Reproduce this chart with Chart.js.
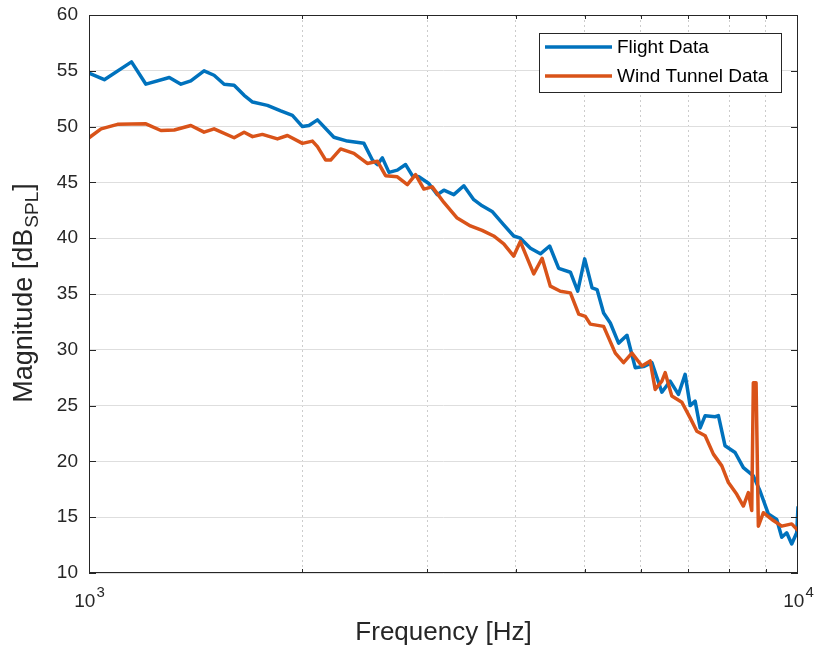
<!DOCTYPE html>
<html>
<head>
<meta charset="utf-8">
<script src="https://cdn.jsdelivr.net/npm/chart.js@4.4.1/dist/chart.umd.min.js"></script>
<style>
  html, body { margin: 0; padding: 0; background: #fff; }
  canvas { display: block; }
</style>
</head>
<body>
<canvas id="myChart" width="815" height="652"></canvas>
<script>
// frequency [Hz] / magnitude [dB SPL]
var flightFreq = [1000,1051,1148,1203,1298,1348,1392,1453,1501,1551,1602,1655,1701,1785,1864,1936,2000,2043,2100,2215,2314,2442,2510,2551,2593,2649,2722,2796,2858,2919,3015,3099,3166,3270,3378,3489,3585,3703,3846,3972,4059,4194,4332,4464,4597,4775,4890,5002,5123,5207,5319,5436,5584,5738,5894,6055,6222,6427,6602,6782,6931,7045,7160,7278,7397,7640,7722,7891,8152,8374,8650,8840,9081,9333,9486,9640,9798,9958,10000];
var flightMag = [54.8,54.2,55.8,53.8,54.4,53.8,54.1,55.0,54.6,53.8,53.7,52.8,52.2,51.9,51.4,51.0,50.0,50.1,50.6,49.05,48.7,48.5,47.0,46.6,47.2,45.9,46.1,46.6,45.6,45.5,44.9,43.9,44.3,43.9,44.7,43.45,42.9,42.4,41.2,40.2,40.0,39.1,38.6,39.3,37.3,36.95,35.25,38.15,35.55,35.4,33.3,32.4,30.6,31.3,28.4,28.5,28.85,26.2,27.2,26.0,27.8,25.0,25.4,23.0,24.1,24.0,24.1,21.4,20.8,19.45,18.7,17.35,15.3,14.8,13.2,13.6,12.6,13.6,15.9];

var tunnelFreq = [1000,1040,1097,1203,1263,1319,1392,1453,1501,1602,1655,1701,1756,1844,1905,2000,2066,2100,2157,2192,2264,2364,2469,2551,2620,2722,2812,2888,2967,3049,3166,3306,3451,3585,3722,3846,3972,4059,4239,4356,4474,4622,4775,4906,5012,5094,5319,5525,5675,5831,6024,6187,6289,6427,6497,6638,6858,7045,7200,7397,7597,7808,7977,8197,8374,8511,8605,8650,8727,8792,8935,9231,9486,9798,10000];
var tunnelMag = [49.0,49.8,50.2,50.25,49.65,49.7,50.1,49.5,49.8,49.0,49.5,49.1,49.3,48.9,49.2,48.5,48.7,48.2,47.0,47.0,48.0,47.6,46.7,46.9,45.6,45.5,44.8,45.7,44.4,44.6,43.2,41.8,41.1,40.7,40.2,39.5,38.4,39.7,36.8,38.2,35.7,35.25,35.1,33.2,33.0,32.3,32.1,29.7,28.85,29.7,28.55,29.0,26.45,27.2,27.95,25.85,25.3,23.9,22.7,22.3,20.65,19.6,18.1,17.05,16.0,17.2,15.6,27.05,27.05,14.2,15.4,14.7,14.2,14.4,13.8];

var seriesLabels = ['Flight Data', 'Wind Tunnel Data'];
var yTicks = [10, 15, 20, 25, 30, 35, 40, 45, 50, 55, 60];
var xDecades = [1000, 10000];
var xMinorTicks = [2000, 3000, 4000, 5000, 6000, 7000, 8000, 9000];

var axisColor = '#262626';
var fontName = '"Liberation Sans", Arial, sans-serif';

function toPoints(xs, ys) {
  return xs.map(function (x, i) { return { x: x, y: ys[i] }; });
}

function isMinor(v) {
  return xMinorTicks.some(function (m) { return Math.abs(m - v) < 0.5; });
}

// matlab style box, inward ticks, 10^n labels, y label with subscript, legend
var matlabLook = {
  id: 'matlabLook',
  afterDraw: function (chart) {
    var ctx = chart.ctx;
    var a = chart.chartArea;
    var xs = chart.scales.x, ys = chart.scales.y;
    ctx.save();

    ctx.strokeStyle = axisColor;
    ctx.lineWidth = 1;
    ctx.beginPath();
    yTicks.forEach(function (v) {
      var y = Math.round(ys.getPixelForValue(v)) + 0.5;
      ctx.moveTo(a.left, y); ctx.lineTo(a.left + 7, y);
      ctx.moveTo(a.right, y); ctx.lineTo(a.right - 7, y);
    });
    xMinorTicks.forEach(function (v) {
      var x = Math.round(xs.getPixelForValue(v)) + 0.5;
      ctx.moveTo(x, a.bottom); ctx.lineTo(x, a.bottom - 4);
      ctx.moveTo(x, a.top); ctx.lineTo(x, a.top + 4);
    });
    ctx.stroke();
    ctx.strokeRect(Math.round(a.left) + 0.5, Math.round(a.top) + 0.5,
      Math.round(a.right - a.left) - 1, Math.round(a.bottom - a.top) - 1);

    // decade labels
    ctx.fillStyle = axisColor;
    ctx.textBaseline = 'middle';
    ctx.textAlign = 'left';
    xDecades.forEach(function (v) {
      var x = xs.getPixelForValue(v);
      var exp = String(Math.round(Math.log10(v)));
      ctx.font = '19px ' + fontName;
      var w1 = ctx.measureText('10').width;
      ctx.font = '15px ' + fontName;
      var w2 = ctx.measureText(exp).width;
      var x0 = x - (w1 + w2) / 2;
      ctx.font = '19px ' + fontName;
      ctx.fillText('10', x0, 602);
      ctx.font = '15px ' + fontName;
      ctx.fillText(exp, x0 + w1 + 1, 593);
    });

    // y axis title
    ctx.translate(25, (a.top + a.bottom) / 2);
    ctx.rotate(-Math.PI / 2);
    var big = '27px ' + fontName, small = '19px ' + fontName;
    ctx.font = big;
    var p1 = 'Magnitude [dB', p3 = ']';
    var w1 = ctx.measureText(p1).width, w3 = ctx.measureText(p3).width;
    ctx.font = small;
    var w2 = ctx.measureText('SPL').width;
    var sx = -(w1 + w2 + w3) / 2;
    ctx.font = big;
    ctx.fillText(p1, sx, 0);
    ctx.font = small;
    ctx.fillText('SPL', sx + w1 + 1, 8);
    ctx.font = big;
    ctx.fillText(p3, sx + w1 + w2 + 2, 0);
    ctx.setTransform(1, 0, 0, 1, 0, 0);

    // legend
    var lx = 539, ly = 33, lw = 242, lh = 59;
    ctx.fillStyle = '#fff';
    ctx.fillRect(lx, ly, lw, lh);
    ctx.strokeStyle = axisColor;
    ctx.lineWidth = 1;
    ctx.strokeRect(lx + 0.5, ly + 0.5, lw, lh);
    ctx.font = '19px ' + fontName;
    chart.data.datasets.forEach(function (ds, i) {
      var y = 47 + i * 29;
      ctx.strokeStyle = ds.borderColor;
      ctx.lineWidth = 3.5;
      ctx.beginPath();
      ctx.moveTo(545, y); ctx.lineTo(612, y);
      ctx.stroke();
      ctx.fillStyle = '#000';
      ctx.fillText(ds.label, 617, y + 1);
    });
    ctx.restore();
  }
};

var ctx = document.getElementById('myChart').getContext('2d');
var chart = new Chart(ctx, {
  type: 'line',
  data: {
    datasets: [{
      label: seriesLabels[0],
      data: toPoints(flightFreq, flightMag),
      borderColor: '#0072BD',
      borderWidth: 3.5,
      order: 2
    }, {
      label: seriesLabels[1],
      data: toPoints(tunnelFreq, tunnelMag),
      borderColor: '#D95319',
      borderWidth: 3.5,
      order: 1
    }]
  },
  options: {
    responsive: false,
    animation: false,
    events: [],
    parsing: false,
    elements: {
      point: { radius: 0 },
      line: { tension: 0, borderJoinStyle: 'round', borderCapStyle: 'round' }
    },
    layout: { padding: { left: 0, top: 15, right: 17, bottom: 0 } },
    plugins: {
      legend: { display: false },
      tooltip: { enabled: false }
    },
    scales: {
      x: {
        type: 'logarithmic',
        min: 1000,
        max: 10000,
        ticks: { display: false },
        grid: {
          drawTicks: false,
          color: function (c) {
            return isMinor(c.tick.value) ? '#cccccc' : 'rgba(0,0,0,0)';
          }
        },
        border: { display: false, dash: [2, 3] },
        title: {
          display: true,
          text: 'Frequency [Hz]',
          color: axisColor,
          font: { family: fontName, size: 26 },
          padding: { top: 0, bottom: 4 }
        },
        afterFit: function (s) {
          s.height = 79;
          s.paddingLeft = 0; s.paddingRight = 0;
        }
      },
      y: {
        min: 10,
        max: 60,
        ticks: {
          stepSize: 5,
          color: axisColor,
          padding: 11,
          font: { family: fontName, size: 19 }
        },
        grid: { drawTicks: false, color: '#dedede' },
        border: { display: false },
        afterFit: function (s) {
          s.width = 89;
          s.paddingTop = 0; s.paddingBottom = 0;
        }
      }
    }
  },
  plugins: [matlabLook]
});
</script>
</body>
</html>
